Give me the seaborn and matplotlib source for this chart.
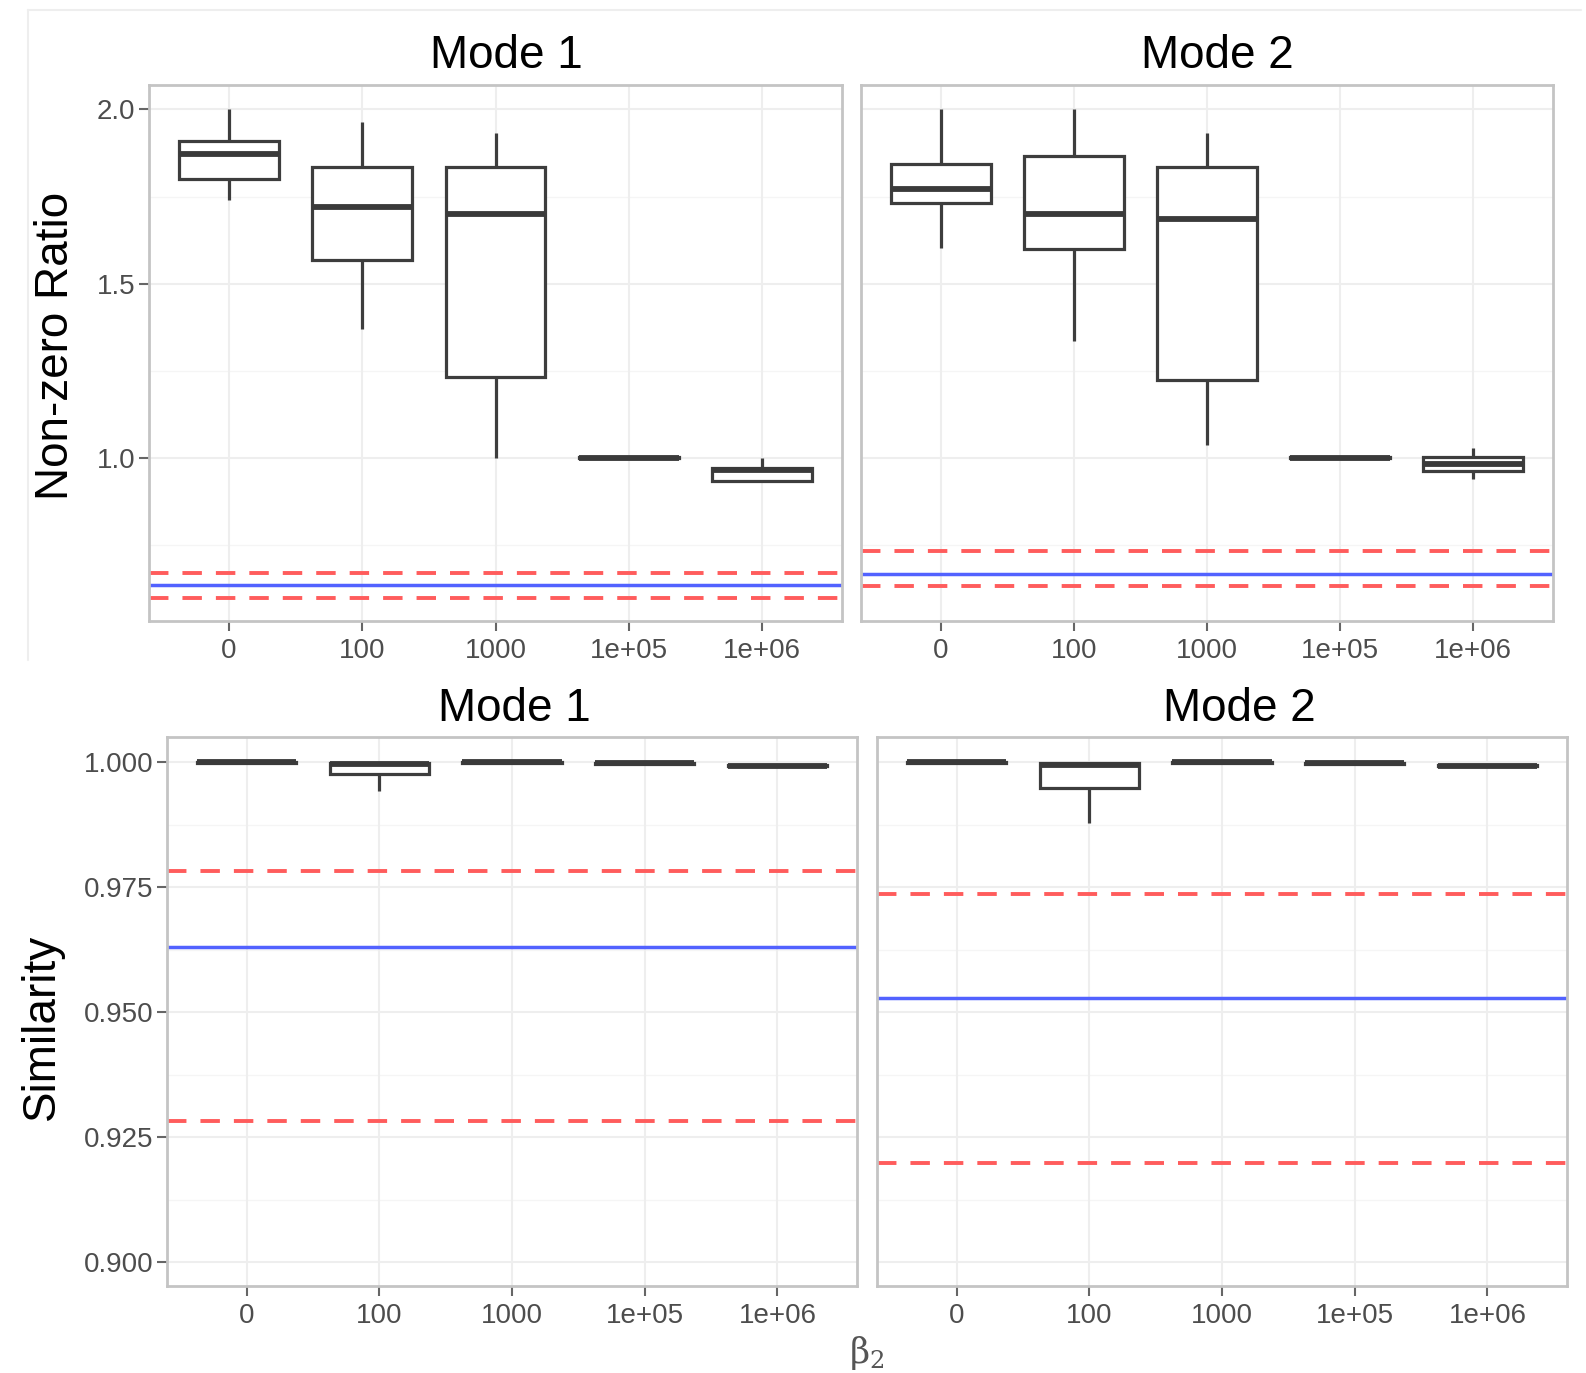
import numpy as np
import pandas as pd
import matplotlib
matplotlib.use("Agg")
import matplotlib.pyplot as plt
import seaborn as sns

sns.set_theme(style="white")
plt.rcParams['font.family'] = ['Liberation Sans', 'DejaVu Sans']

# ---------------- data ----------------
betas = ["0", "100", "1000", "1e+05", "1e+06"]
modes = ["Mode 1", "Mode 2"]

# five-number samples per beta (min, q1, median, q3, max)
nz_mode1 = [
    [1.739, 1.800, 1.872, 1.910, 2.000],
    [1.371, 1.568, 1.719, 1.835, 1.965],
    [1.000, 1.232, 1.701, 1.835, 1.933],
    [1.000, 1.000, 1.000, 1.002, 1.002],
    [0.935, 0.935, 0.966, 0.972, 1.000],
]
nz_mode2 = [
    [1.603, 1.733, 1.771, 1.843, 2.000],
    [1.336, 1.600, 1.701, 1.867, 2.000],
    [1.038, 1.223, 1.687, 1.835, 1.933],
    [1.000, 1.000, 1.000, 1.002, 1.002],
    [0.940, 0.962, 0.983, 1.003, 1.030],
]
sim_mode1 = [
    [0.9999, 0.9999, 1.0000, 1.0000, 1.0000],
    [0.9943, 0.9976, 0.9997, 0.9999, 1.0000],
    [0.9999, 0.9999, 1.0000, 1.0000, 1.0000],
    [0.9997, 0.9997, 0.9998, 0.9998, 0.9998],
    [0.9991, 0.9992, 0.9993, 0.9994, 0.9994],
]
sim_mode2 = [
    [0.9999, 0.9999, 1.0000, 1.0000, 1.0000],
    [0.9879, 0.9949, 0.9994, 0.9998, 1.0000],
    [0.9999, 0.9999, 1.0000, 1.0000, 1.0000],
    [0.9997, 0.9997, 0.9998, 0.9998, 0.9998],
    [0.9991, 0.9992, 0.9993, 0.9994, 0.9994],
]

nz_ref_mean = [0.635, 0.667]
nz_ref_lo = [0.600, 0.632]
nz_ref_hi = [0.670, 0.733]
sim_ref_mean = [0.9630, 0.9528]
sim_ref_lo = [0.9283, 0.9198]
sim_ref_hi = [0.9783, 0.9737]

nz_ticks = [1.0, 1.5, 2.0]
nz_ticklabels = ["1.0", "1.5", "2.0"]
sim_ticks = [0.900, 0.925, 0.950, 0.975, 1.000]
sim_ticklabels = ["0.900", "0.925", "0.950", "0.975", "1.000"]


def to_df(groups):
    rows = []
    for b, vals in zip(betas, groups):
        for v in vals:
            rows.append({"beta": b, "value": v})
    return pd.DataFrame(rows)


W, H = 1586, 1373
fig = plt.figure(figsize=(W / 100, H / 100), dpi=100)
fig.patch.set_facecolor("white")


def rect(x0, y0, x1, y1):
    return [x0 / W, 1 - y1 / H, (x1 - x0) / W, (y1 - y0) / H]


tick_color = "#4d4d4d"
border_color = "#c4c4c4"


def draw_panel(ax, groups, mean, lo, hi, ylim, ticks, ticklabels, minor, show_y):
    df = to_df(groups)
    ax.set_facecolor("white")
    for y in minor:
        ax.axhline(y, color="#f5f5f5", lw=1.0, zorder=0)
    for y in ticks:
        ax.axhline(y, color="#eeeeee", lw=1.5, zorder=0)
    for x in range(len(betas)):
        ax.axvline(x, color="#eeeeee", lw=1.5, zorder=0)
    sns.boxplot(data=df, x="beta", y="value", order=betas, ax=ax, width=0.75,
                color="white", linecolor="#3d3d3d", linewidth=2.3,
                whis=(0, 100), showfliers=False,
                medianprops=dict(linewidth=4.2, color="#3a3a3a"),
                capprops=dict(linewidth=0))
    ax.axhline(hi, color="#ff5c5c", lw=2.8, ls=(0, (5.0, 3.6)), zorder=3)
    ax.axhline(lo, color="#ff5c5c", lw=2.8, ls=(0, (5.0, 3.6)), zorder=3)
    ax.axhline(mean, color="#5262ff", lw=2.5, zorder=3)
    ax.set_xlim(-0.6, 4.6)
    ax.set_ylim(*ylim)
    ax.set_xlabel("")
    ax.set_ylabel("")
    ax.set_yticks(ticks)
    ax.set_xticks(range(len(betas)))
    ax.set_xticklabels(betas)
    ax.tick_params(axis="x", colors="#666666", labelcolor=tick_color, labelsize=20,
                   length=7, width=1.5, pad=5, bottom=True)
    if show_y:
        ax.set_yticklabels(ticklabels)
        ax.tick_params(axis="y", colors="#666666", labelcolor=tick_color, labelsize=20,
                       length=7, width=1.5, pad=3, left=True)
    else:
        ax.set_yticklabels([])
        ax.tick_params(axis="y", left=False, length=0)
    for s in ax.spines.values():
        s.set_visible(True)
        s.set_color(border_color)
        s.set_linewidth(2.0)
        s.set_zorder(5)


# top row: non-zero ratio
ax1 = fig.add_axes(rect(149, 85, 842, 621))
ax2 = fig.add_axes(rect(861, 85, 1553, 621))
nz_minor = [0.75, 1.25, 1.75]
draw_panel(ax1, nz_mode1, nz_ref_mean[0], nz_ref_lo[0], nz_ref_hi[0], (0.533, 2.07),
           nz_ticks, nz_ticklabels, nz_minor, True)
draw_panel(ax2, nz_mode2, nz_ref_mean[1], nz_ref_lo[1], nz_ref_hi[1], (0.533, 2.07),
           nz_ticks, nz_ticklabels, nz_minor, False)

# bottom row: similarity
ax3 = fig.add_axes(rect(167, 737, 857, 1286))
ax4 = fig.add_axes(rect(877, 737, 1567, 1286))
sim_minor = [0.9125, 0.9375, 0.9625, 0.9875]
draw_panel(ax3, sim_mode1, sim_ref_mean[0], sim_ref_lo[0], sim_ref_hi[0], (0.8953, 1.005),
           sim_ticks, sim_ticklabels, sim_minor, True)
draw_panel(ax4, sim_mode2, sim_ref_mean[1], sim_ref_lo[1], sim_ref_hi[1], (0.8953, 1.005),
           sim_ticks, sim_ticklabels, sim_minor, False)

# faint outer frame of the upper image
fig.add_artist(plt.Line2D([28 / W, 28 / W], [1 - 10 / H, 1 - 660 / H],
                          color="#eeeeee", lw=1.5, transform=fig.transFigure))
fig.add_artist(plt.Line2D([28 / W, 1 - 5 / W], [1 - 10 / H, 1 - 10 / H],
                          color="#eeeeee", lw=1.5, transform=fig.transFigure))

# titles and labels
def ftxt(x, y, s, **kw):
    fig.text(x / W, 1 - y / H, s, **kw)

ftxt(506, 56, modes[0], ha="center", va="center", fontsize=33, color="black")
ftxt(1217, 56, modes[1], ha="center", va="center", fontsize=33, color="black")
ftxt(514, 709, modes[0], ha="center", va="center", fontsize=33, color="black")
ftxt(1239, 709, modes[1], ha="center", va="center", fontsize=33, color="black")
ftxt(56, 346, "Non-zero Ratio", ha="center", va="center", rotation=90, fontsize=33, color="black")
ftxt(42, 1027, "Similarity", ha="center", va="center", rotation=90, fontsize=33, color="black")
ftxt(867, 1353, r"$\mathregular{\beta_2}$", ha="center", va="center", fontsize=25,
     color="#555555", family="DejaVu Serif")

fig.savefig("out.png", dpi=100, facecolor="white")
